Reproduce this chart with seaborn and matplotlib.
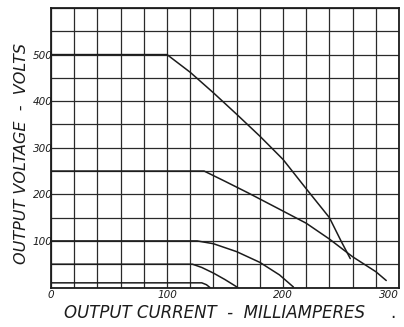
import pandas as pd
import numpy as np
import matplotlib
matplotlib.use("Agg")
import matplotlib.pyplot as plt
import seaborn as sns

# curves: output current (mA) vs output voltage (V)
i_500 = [0, 100, 120, 140, 160, 180, 200, 220, 240, 250, 258]
v_500 = [500, 500, 462, 418, 372, 325, 275, 212, 150, 100, 62]
i_250 = [0, 132, 150, 170, 197, 220, 240, 260, 280, 289]
v_250 = [250, 250, 228, 203, 168, 138, 104, 66, 34, 15]
i_100 = [0, 126, 140, 160, 180, 197, 209]
v_100 = [100, 100, 94, 77, 54, 27, 1]
i_50 = [0, 122, 130, 140, 150, 161]
v_50 = [50, 50, 43, 31, 17, 0]
i_10 = [0, 130, 134, 137]
v_10 = [10, 10, 6, 0]

x_ticks = list(range(0, 301, 20))
x_labels = ["0", "100", "200", "300"]
y_ticks = list(range(0, 601, 50))
y_labels = ["100", "200", "300", "400", "500"]

curves = [("500", i_500, v_500), ("250", i_250, v_250), ("100", i_100, v_100),
          ("50", i_50, v_50), ("10", i_10, v_10)]
df = pd.concat([pd.DataFrame({"curve": name, "current": i, "voltage": v})
                for name, i, v in curves], ignore_index=True)

sns.set_style("white")
ink = "#1c1c1c"
fig = plt.figure(figsize=(4.04, 3.27), dpi=100)
ax = fig.add_axes([51 / 404, 1 - 287.5 / 327, 348 / 404, 279.5 / 327])

sns.lineplot(data=df, x="current", y="voltage", hue="curve", units="curve",
             estimator=None, sort=False, palette=[ink] * 5, legend=False,
             linewidth=1.1, ax=ax)

ax.set_xlim(0, 300)
ax.set_ylim(0, 600)
ax.set_xticks(x_ticks)
ax.set_xticklabels([str(t) if str(t) in x_labels else "" for t in x_ticks])
ax.set_yticks(y_ticks)
ax.set_yticklabels([str(t) if str(t) in y_labels else "" for t in y_ticks])
ax.grid(True, color="#2a2a2a", linewidth=0.9)
ax.tick_params(length=0)
ax.tick_params(axis="x", pad=2)
ax.tick_params(axis="y", pad=-1)
for lab in ax.get_xticklabels() + ax.get_yticklabels():
    lab.set_fontstyle("italic")
    lab.set_fontsize(7.5)
    lab.set_color(ink)
# last x label sits on the figure edge, nudge it inside
ax.get_xticklabels()[-1].set_horizontalalignment("right")
for s in ax.spines.values():
    s.set_color(ink)
    s.set_linewidth(1.3)
ax.set_xlabel("")
ax.set_ylabel("")

fig.text(64 / 404, 1 - 313 / 327, "OUTPUT CURRENT  -  MILLIAMPERES",
         ha="left", va="center", fontsize=12, fontstyle="italic", color=ink)
fig.text(393 / 404, 1 - 313 / 327, ".", ha="center", va="center",
         fontsize=12, color=ink)
fig.text(22 / 404, 1 - 153 / 327, "OUTPUT VOLTAGE  -  VOLTS", rotation=90,
         ha="center", va="center", fontsize=11.5, fontstyle="italic", color=ink)

fig.savefig("out.png", dpi=100)
